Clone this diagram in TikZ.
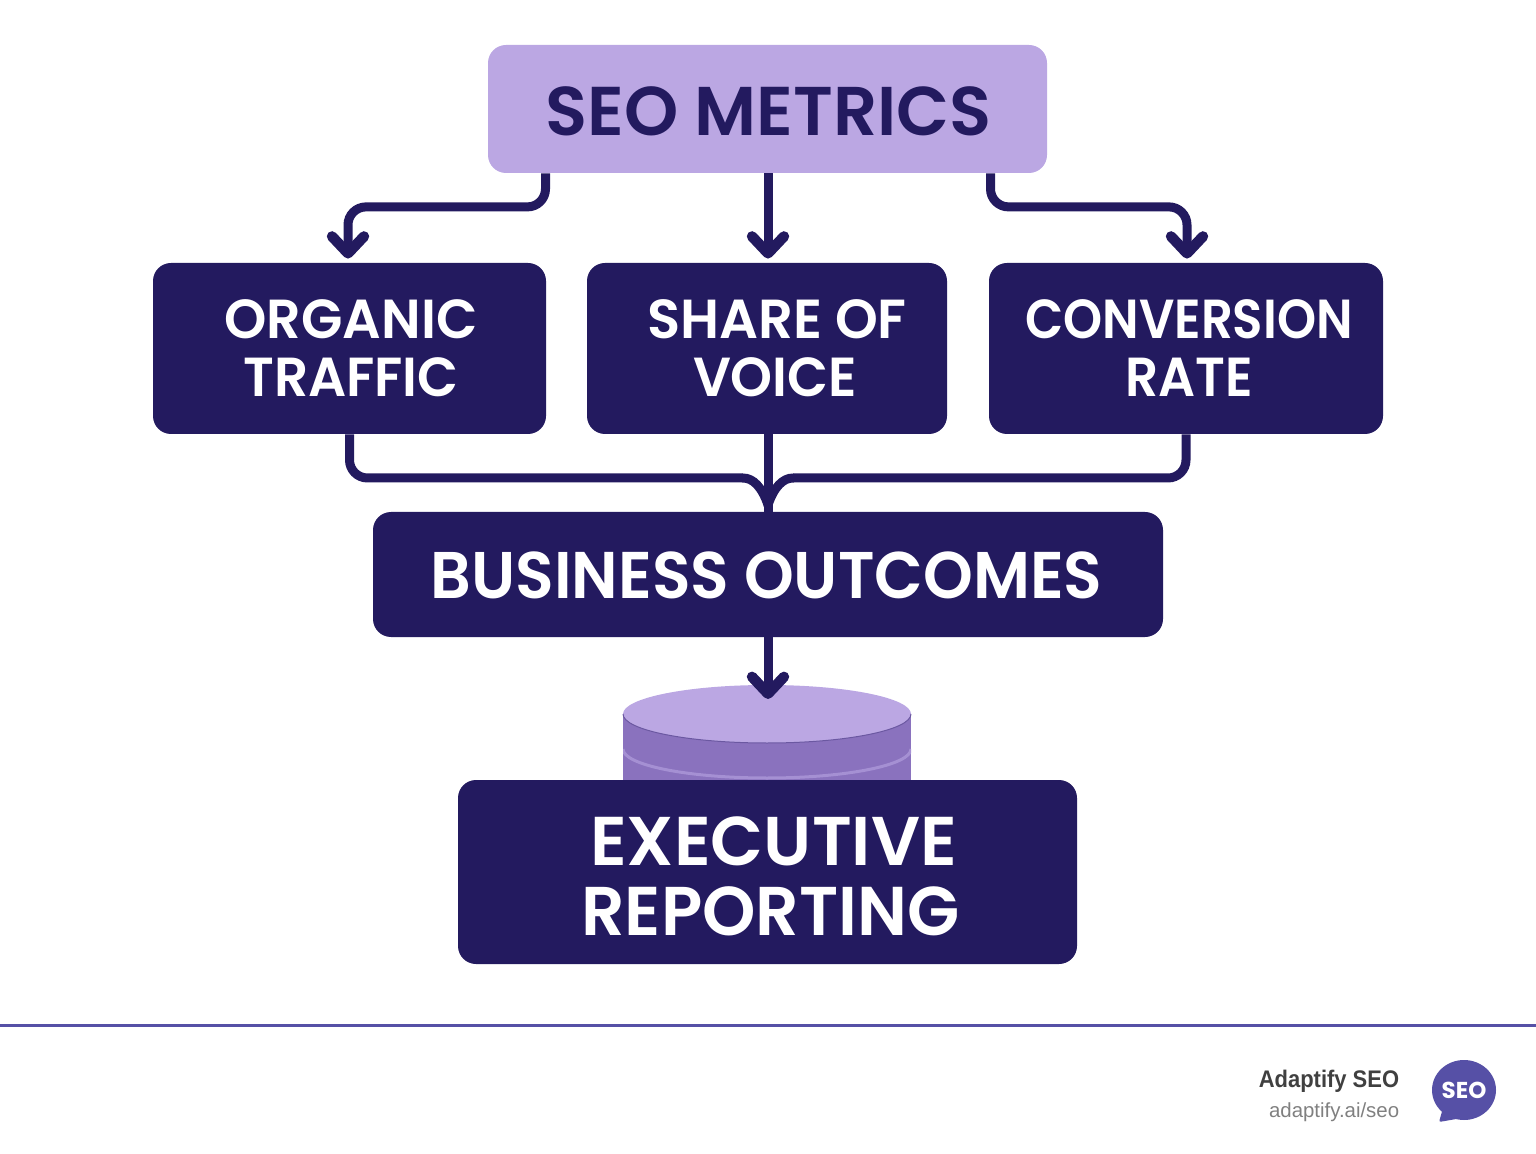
\documentclass[tikz,border=0pt]{standalone}
\usepackage{fontspec}
\usepackage{graphicx}
\setmainfont{Poppins}[UprightFont=* SemiBold,BoldFont=* Bold]
\newfontfamily\tagfont{Liberation Sans}
\usetikzlibrary{arrows.meta,shapes.geometric}
\definecolor{navy}{HTML}{231A5F}
\definecolor{lilac}{HTML}{BBA7E3}
\definecolor{midlilac}{HTML}{8A72BE}
\definecolor{bandlilac}{HTML}{A590D3}
\definecolor{brandblue}{HTML}{5650A6}
\newcommand{\sq}[2]{\scalebox{#1}[1]{#2}}
\newcommand{\pad}[2]{\raisebox{0pt}[\dimexpr\height+#1\relax]{#2}}
\tikzset{
  x=0.5pt,y=-0.5pt,
  box/.style={rounded corners=9pt,fill=navy,text=white,inner sep=0pt,align=center},
  conn/.style={draw=navy,line width=4.5pt,rounded corners=9pt},
  tip/.style={-{Straight Barb[length=8.5pt,width=16pt,line width=5.2pt,round]},shorten >=2pt},
  tagline/.style={inner sep=0pt,anchor=base east}
}
\begin{document}
\begin{tikzpicture}
\useasboundingbox (0,0) rectangle (1536,1154);
% disk behind the boxes
\fill[midlilac] (623,714) -- (623,782) -- (911,782) -- (911,714) -- cycle;
\begin{scope}
\clip (623,714) rectangle (911,782);
\draw[bandlilac,line width=1.5pt] (623,749) arc[start angle=180,end angle=360,x radius=72pt,y radius=14.5pt];
\end{scope}
\node[ellipse,fill=lilac,minimum width=144pt,minimum height=29pt,inner sep=0pt] (disk) at (767,714) {};
\draw[midlilac!70!navy,line width=0.5pt] (623,714) arc[start angle=180,end angle=360,x radius=72pt,y radius=14.5pt];
\coordinate (diskTip) at (768,703);
% boxes
\node[box,fill=lilac,text=navy,minimum width=279.5pt,minimum height=64pt,font=\fontsize{34.5}{36}\selectfont] (top) at (767.5,109) {\pad{2pt}{\hspace*{1pt}\sq{1.0}{SEO METRICS}}};
\node[box,minimum width=196.5pt,minimum height=85.5pt,font=\fontsize{27.5}{29}\selectfont] (org) at (349.5,348.5) {\hspace*{1.5pt}\sq{0.98}{ORGANIC}\\\hspace*{1.5pt}\sq{0.97}{TRAFFIC}};
\node[box,minimum width=180pt,minimum height=85.5pt,font=\fontsize{27.5}{29}\selectfont] (share) at (767,348.5) {\hspace*{10pt}\sq{0.99}{SHARE OF}\\\hspace*{8pt}\sq{0.97}{VOICE}};
\node[box,minimum width=197pt,minimum height=85.5pt,font=\fontsize{27.5}{29}\selectfont] (conv) at (1186,348.5) {\hspace*{3pt}\sq{0.905}{CONVERSION}\\\hspace*{3pt}\sq{0.94}{RATE}};
\node[box,minimum width=395pt,minimum height=62.5pt,font=\fontsize{33}{34}\selectfont] (bus) at (768,574.5) {\pad{1pt}{\hspace*{-1.5pt}\sq{0.96}{BUSINESS OUTCOMES}}};
\node[box,minimum width=309.5pt,minimum height=92pt,font=\fontsize{34.5}{35}\selectfont] (exec) at (767.5,872) {\pad{4pt}{\hspace*{6pt}\sq{1.0}{EXECUTIVE}}\\\hspace*{3pt}\sq{0.985}{REPORTING}};
% connectors
\coordinate (mergeL) at (743,478);
\coordinate (mergeR) at (793,478);
\coordinate (mergeC) at (768,505);
\draw[conn,tip] ([xshift=-111pt]top.south) -- ++(0,33.5) -| ([xshift=-.75pt]org.north);
\draw[conn,tip] (top.south -| bus.north) -- (share.north -| bus.north);
\draw[conn,tip] ([xshift=111.5pt]top.south) -- ++(0,33.5) -| ([xshift=.5pt]conv.north);
\draw[conn] (share.south -| bus.north) -- (bus.north);
\draw[conn] (org.south) |- (mergeL);
\draw[conn] (conv.south) |- (mergeR);
\draw[conn,sharp corners,line cap=round] (mergeL) .. controls (753,478) and (762,487) .. (mergeC);
\draw[conn,sharp corners,line cap=round] (mergeR) .. controls (783,478) and (774,487) .. (mergeC);
\draw[conn,tip] (bus.south) -- (diskTip);
% footer
\coordinate (ruleL) at (0,1025);
\coordinate (ruleR) at (1536,1025);
\draw[brandblue,line width=1.5pt] (ruleL) -- (ruleR);
\node[tagline,text=black!75,font=\tagfont\bfseries\fontsize{12}{14}\selectfont] (brand) at (1399.5,1087) {\sq{0.915}{Adaptify SEO}};
\node[tagline,text=black!50,font=\tagfont\fontsize{10.2}{12}\selectfont] (url) at (1399.5,1117) {adaptify.ai/seo};
\fill[brandblue] (1464,1090) ellipse[x radius=16pt,y radius=15pt];
\fill[brandblue,rounded corners=1pt] (1443,1108) -- (1439,1122) -- (1462,1118) -- cycle;
\node[text=white,inner sep=0pt,font=\bfseries\fontsize{11.5}{12}\selectfont] (logo) at (1464,1090) {SEO};
\end{tikzpicture}
\end{document}
